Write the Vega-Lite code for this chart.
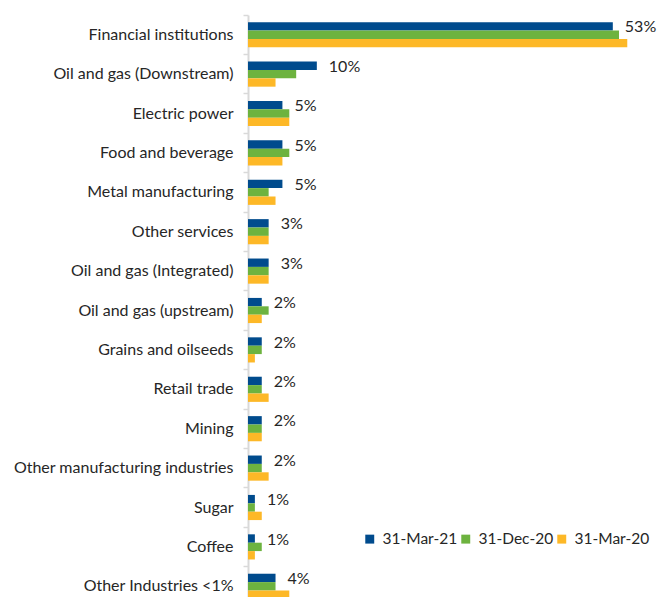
{
  "$schema": "https://vega.github.io/schema/vega-lite/v6.json",
  "description": "Exposure by industry, grouped horizontal bars for three reporting dates.",
  "width": 413,
  "height": 591,
  "autosize": {"type": "none"},
  "padding": {"left": 248, "top": 15, "right": 0, "bottom": 0},
  "background": "white",
  "config": {
    "view": {"stroke": null},
    "font": "Lato"
  },
  "data": {
    "values": [
      {"industry": "Financial institutions", "date": "31-Mar-21", "share": 0.53},
      {"industry": "Financial institutions", "date": "31-Dec-20", "share": 0.539},
      {"industry": "Financial institutions", "date": "31-Mar-20", "share": 0.551},
      {"industry": "Oil and gas (Downstream)", "date": "31-Mar-21", "share": 0.10},
      {"industry": "Oil and gas (Downstream)", "date": "31-Dec-20", "share": 0.07},
      {"industry": "Oil and gas (Downstream)", "date": "31-Mar-20", "share": 0.04},
      {"industry": "Electric power", "date": "31-Mar-21", "share": 0.05},
      {"industry": "Electric power", "date": "31-Dec-20", "share": 0.06},
      {"industry": "Electric power", "date": "31-Mar-20", "share": 0.06},
      {"industry": "Food and beverage", "date": "31-Mar-21", "share": 0.05},
      {"industry": "Food and beverage", "date": "31-Dec-20", "share": 0.06},
      {"industry": "Food and beverage", "date": "31-Mar-20", "share": 0.05},
      {"industry": "Metal manufacturing", "date": "31-Mar-21", "share": 0.05},
      {"industry": "Metal manufacturing", "date": "31-Dec-20", "share": 0.03},
      {"industry": "Metal manufacturing", "date": "31-Mar-20", "share": 0.04},
      {"industry": "Other services", "date": "31-Mar-21", "share": 0.03},
      {"industry": "Other services", "date": "31-Dec-20", "share": 0.03},
      {"industry": "Other services", "date": "31-Mar-20", "share": 0.03},
      {"industry": "Oil and gas (Integrated)", "date": "31-Mar-21", "share": 0.03},
      {"industry": "Oil and gas (Integrated)", "date": "31-Dec-20", "share": 0.03},
      {"industry": "Oil and gas (Integrated)", "date": "31-Mar-20", "share": 0.03},
      {"industry": "Oil and gas (upstream)", "date": "31-Mar-21", "share": 0.02},
      {"industry": "Oil and gas (upstream)", "date": "31-Dec-20", "share": 0.03},
      {"industry": "Oil and gas (upstream)", "date": "31-Mar-20", "share": 0.02},
      {"industry": "Grains and oilseeds", "date": "31-Mar-21", "share": 0.02},
      {"industry": "Grains and oilseeds", "date": "31-Dec-20", "share": 0.02},
      {"industry": "Grains and oilseeds", "date": "31-Mar-20", "share": 0.01},
      {"industry": "Retail trade", "date": "31-Mar-21", "share": 0.02},
      {"industry": "Retail trade", "date": "31-Dec-20", "share": 0.02},
      {"industry": "Retail trade", "date": "31-Mar-20", "share": 0.03},
      {"industry": "Mining", "date": "31-Mar-21", "share": 0.02},
      {"industry": "Mining", "date": "31-Dec-20", "share": 0.02},
      {"industry": "Mining", "date": "31-Mar-20", "share": 0.02},
      {"industry": "Other manufacturing industries", "date": "31-Mar-21", "share": 0.02},
      {"industry": "Other manufacturing industries", "date": "31-Dec-20", "share": 0.02},
      {"industry": "Other manufacturing industries", "date": "31-Mar-20", "share": 0.03},
      {"industry": "Sugar", "date": "31-Mar-21", "share": 0.01},
      {"industry": "Sugar", "date": "31-Dec-20", "share": 0.01},
      {"industry": "Sugar", "date": "31-Mar-20", "share": 0.02},
      {"industry": "Coffee", "date": "31-Mar-21", "share": 0.01},
      {"industry": "Coffee", "date": "31-Dec-20", "share": 0.02},
      {"industry": "Coffee", "date": "31-Mar-20", "share": 0.01},
      {"industry": "Other Industries <1%", "date": "31-Mar-21", "share": 0.04},
      {"industry": "Other Industries <1%", "date": "31-Dec-20", "share": 0.04},
      {"industry": "Other Industries <1%", "date": "31-Mar-20", "share": 0.06}
    ]
  },
  "encoding": {
    "y": {
      "field": "industry",
      "type": "nominal",
      "sort": null,
      "title": null,
      "scale": {"paddingInner": 0, "paddingOuter": 0},
      "axis": {
        "bandPosition": 0,
        "domainColor": "#d9d9d9",
        "domainWidth": 2,
        "tickColor": "#d9d9d9",
        "tickWidth": 1.5,
        "tickSize": 5,
        "labelFont": "Lato",
        "labelFontSize": 16,
        "labelColor": "#262626",
        "labelPadding": 10,
        "labelLimit": 300
      }
    },
    "yOffset": {
      "field": "date",
      "sort": ["31-Mar-21", "31-Dec-20", "31-Mar-20"],
      "scale": {"paddingInner": 0, "paddingOuter": 0.85}
    },
    "x": {
      "field": "share",
      "type": "quantitative",
      "scale": {"domain": [0, 0.6], "nice": false},
      "axis": null
    }
  },
  "layer": [
    {
      "mark": {"type": "bar"},
      "encoding": {
        "color": {
          "field": "date",
          "type": "nominal",
          "sort": ["31-Mar-21", "31-Dec-20", "31-Mar-20"],
          "scale": {
            "domain": ["31-Mar-21", "31-Dec-20", "31-Mar-20"],
            "range": ["#004b8d", "#6db33f", "#fdb827"]
          },
          "legend": {
            "title": null,
            "orient": "none",
            "direction": "horizontal",
            "legendX": 114,
            "legendY": 516,
            "symbolType": "square",
            "symbolSize": 80,
            "symbolStrokeWidth": 0,
            "labelFont": "Lato",
            "labelFontSize": 15.5,
            "labelColor": "#262626",
            "labelOffset": 5,
            "columnPadding": 0
          }
        }
      }
    },
    {
      "transform": [{"filter": "datum.date === '31-Mar-21'"}],
      "mark": {
        "type": "text",
        "align": "left",
        "baseline": "middle",
        "dx": 12,
        "dy": 1,
        "font": "Lato",
        "fontSize": 16,
        "color": "#262626"
      },
      "encoding": {
        "text": {"field": "share", "type": "quantitative", "format": ".0%"},
        "x": {"field": "share", "type": "quantitative"}
      }
    }
  ]
}
